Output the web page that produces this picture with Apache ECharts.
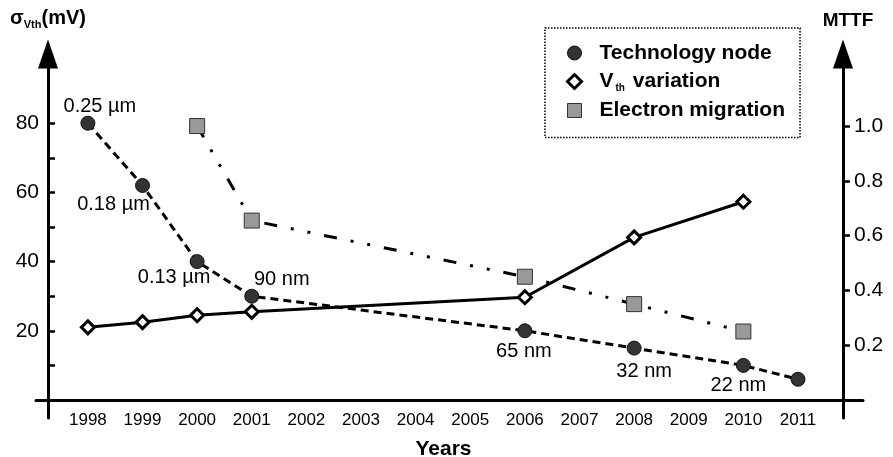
<!DOCTYPE html>
<html>
<head>
<meta charset="utf-8">
<script src="https://cdn.jsdelivr.net/npm/echarts@6/dist/echarts.min.js"></script>
<style>
  html, body { margin: 0; padding: 0; background: #fff; }
  #chart { width: 893px; height: 457px; }
</style>
</head>
<body>
<div id="chart"></div>
<script>
// ---- data ----
const yearTicks = [1998, 1999, 2000, 2001, 2002, 2003, 2004, 2005, 2006, 2007, 2008, 2009, 2010, 2011];

const nodeYears = [1998, 1999, 2000, 2001, 2006, 2008, 2010, 2011];
const nodeSigma = [80, 62, 40, 30, 20, 15, 10, 6];
const nodeNames = ['0.25 µm', '0.18 µm', '0.13 µm', '90 nm', '65 nm', '32 nm', '22 nm', ''];

const vthYears = [1998, 1999, 2000, 2001, 2006, 2008, 2010];
const vthSigma = [21, 22.5, 24.5, 25.5, 29.7, 47, 57.3];

const emYears = [2000, 2001, 2006, 2008, 2010];
const emMttf = [1.0, 0.655, 0.45, 0.35, 0.25];

const sigmaTicks = [10, 20, 30, 40, 50, 60, 70, 80];
const sigmaLabels = [20, 40, 60, 80];
const mttfTicks = [0.2, 0.4, 0.6, 0.8, 1.0];

const seriesNames = ['Technology node', 'Vth variation', 'Electron migration'];

// ---- styling ----
const FONT = '"Liberation Sans", Arial, Helvetica, sans-serif';
// where each node name sits relative to its point
const nodeNameOffset = [[12, -17], [-29, 19], [-23, 16], [30, -17], [-1, 21], [10, 23], [-5, 20], [0, 0]];

const pair = (xs, ys) => xs.map((x, i) => [x, ys[i]]);

const nodeData = nodeYears.map((y, i) => ({
  value: [y, nodeSigma[i]],
  label: {
    show: nodeNames[i] !== '',
    formatter: nodeNames[i],
    offset: nodeNameOffset[i]
  }
}));

const chart = echarts.init(document.getElementById('chart'), null, { renderer: 'canvas' });

chart.setOption({
  animation: false,
  backgroundColor: '#fff',
  textStyle: { fontFamily: FONT, color: '#000' },
  grid: { left: 36, right: 30, top: 54, bottom: 39, containLabel: false, outerBoundsMode: 'none' },
  legend: {
    orient: 'vertical',
    left: 545,
    top: 28,
    padding: [14, 15, 16, 21],
    itemGap: 6.5,
    itemWidth: 14,
    itemHeight: 14,
    borderColor: '#000',
    borderWidth: 1.5,
    borderType: 'dotted',
    selectedMode: false,
    data: [
      { name: seriesNames[0], icon: 'circle', itemStyle: { color: '#333', borderColor: '#111', borderWidth: 1 } },
      { name: seriesNames[1], icon: 'diamond', itemStyle: { color: '#fff', borderColor: '#000', borderWidth: 3 } },
      { name: seriesNames[2], icon: 'rect', itemStyle: { color: '#999', borderColor: '#333', borderWidth: 1 } }
    ],
    formatter: function (name) {
      if (name === seriesNames[1]) return '{b|V}{sub|th}{b| variation}';
      return '{b|' + name + '}';
    },
    textStyle: {
      padding: [0, 0, 0, 13],
      lineHeight: 22,
      rich: {
        b: { fontFamily: FONT, fontSize: 21, fontWeight: 'bold', color: '#000', lineHeight: 22 },
        sub: { fontFamily: FONT, fontSize: 10, fontWeight: 'bold', color: '#000', padding: [13, 2, 0, 2] }
      }
    }
  },
  xAxis: {
    type: 'value',
    min: 1997.05,
    max: 2012.19,
    name: 'Years',
    nameLocation: 'middle',
    nameGap: 21,
    nameMoveOverlap: false,
    nameTextStyle: { fontFamily: FONT, fontSize: 21, fontWeight: 'bold', color: '#000', padding: [0, 12, 0, 0] },
    axisLine: { show: true, onZero: true, onZeroAxisIndex: 0, lineStyle: { color: '#000', width: 3 } },
    axisTick: { show: false },
    splitLine: { show: false },
    axisLabel: {
      customValues: yearTicks,
      formatter: v => String(v),
      fontFamily: FONT,
      fontSize: 17,
      color: '#000',
      margin: -6
    }
  },
  yAxis: [
    {
      type: 'value',
      position: 'left',
      offset: -12,
      min: -5.2,
      max: 100,
      name: '{s|σ}{sub|Vth}{s|(mV)}',
      nameLocation: 'end',
      nameGap: 24,
      nameTextStyle: {
        rich: {
          s: { fontFamily: FONT, fontSize: 20, fontWeight: 'bold', color: '#000' },
          sub: { fontFamily: FONT, fontSize: 11, fontWeight: 'bold', color: '#000', padding: [12, 0, 0, 0] }
        }
      },
      axisLine: {
        show: true,
        symbol: ['none', 'triangle'],
        symbolSize: [20, 29],
        lineStyle: { color: '#000', width: 3 }
      },
      axisTick: { show: true, inside: true, length: 7, customValues: sigmaTicks, lineStyle: { color: '#000', width: 2.5 } },
      axisLabel: { customValues: sigmaLabels, fontFamily: FONT, fontSize: 21, color: '#000', margin: 9 },
      splitLine: { show: false }
    },
    {
      type: 'value',
      position: 'right',
      offset: -20,
      min: -0.0657,
      max: 1.263,
      name: 'MTTF',
      nameLocation: 'end',
      nameGap: 24,
      nameTextStyle: { fontFamily: FONT, fontSize: 19, fontWeight: 'bold', color: '#000', padding: [0, 0, 0, 10] },
      axisLine: {
        show: true,
        symbol: ['none', 'triangle'],
        symbolSize: [20, 29],
        lineStyle: { color: '#000', width: 3 }
      },
      axisTick: { show: true, inside: false, length: 7, customValues: mttfTicks, lineStyle: { color: '#000', width: 2.5 } },
      axisLabel: { customValues: mttfTicks, formatter: v => v.toFixed(1), fontFamily: FONT, fontSize: 21, color: '#000', margin: 11 },
      splitLine: { show: false }
    }
  ],
  series: [
    {
      name: seriesNames[2],
      type: 'line',
      yAxisIndex: 1,
      data: pair(emYears, emMttf),
      symbol: 'rect',
      symbolSize: 15,
      itemStyle: { color: '#999', borderColor: '#333', borderWidth: 1 },
      lineStyle: { color: '#000', width: 3, type: [13, 14, 3, 14, 3, 14] },
      z: 2
    },
    {
      name: seriesNames[0],
      type: 'line',
      yAxisIndex: 0,
      data: nodeData,
      symbol: 'circle',
      symbolSize: 14,
      itemStyle: { color: '#333', borderColor: '#111', borderWidth: 1 },
      lineStyle: { color: '#000', width: 3, type: [8, 5] },
      label: { position: 'inside', fontFamily: FONT, fontSize: 20, color: '#000' },
      z: 3
    },
    {
      name: seriesNames[1],
      type: 'line',
      yAxisIndex: 0,
      data: pair(vthYears, vthSigma),
      symbol: 'diamond',
      symbolSize: 13,
      itemStyle: { color: '#fff', borderColor: '#000', borderWidth: 3 },
      lineStyle: { color: '#000', width: 3, type: 'solid' },
      z: 4
    }
  ]
});
</script>
</body>
</html>
